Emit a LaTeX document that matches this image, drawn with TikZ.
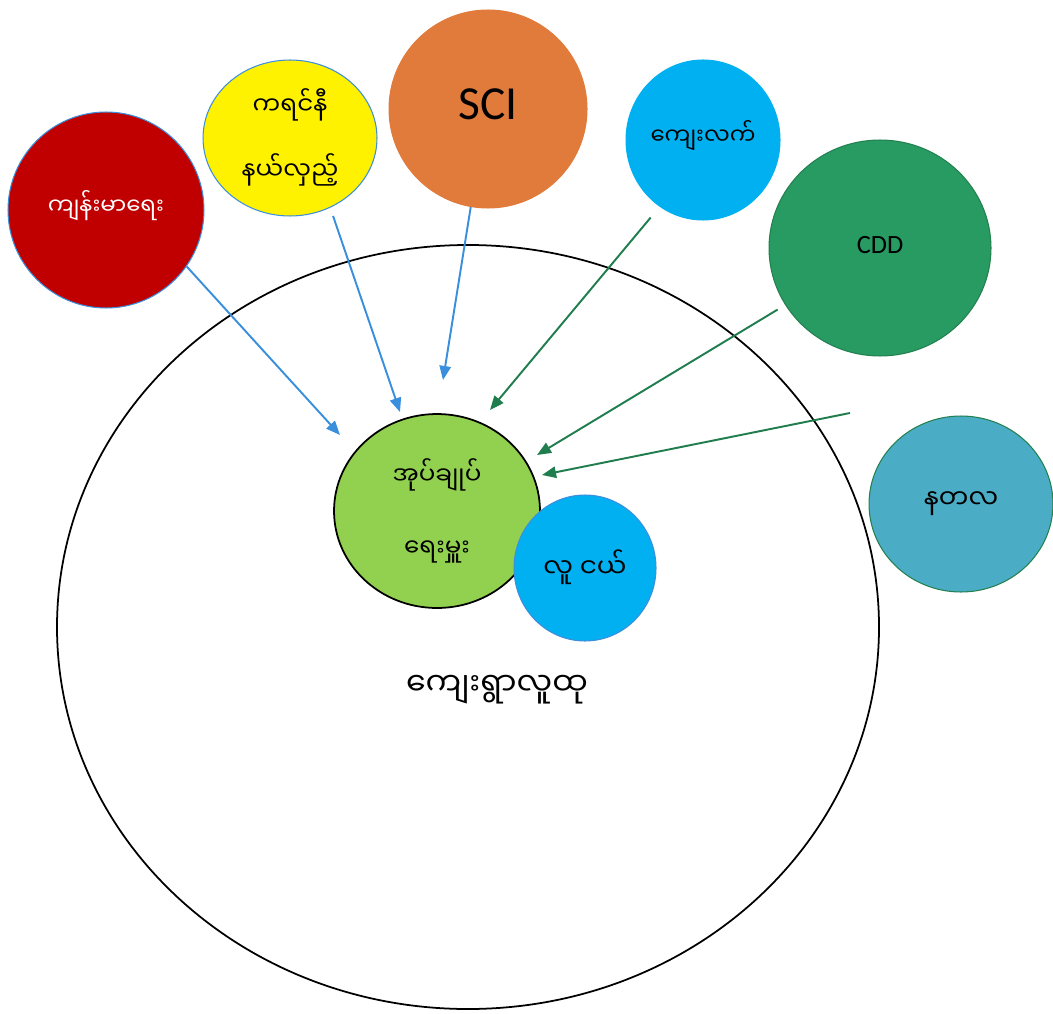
\documentclass[tikz,border=0pt]{standalone}
\usepackage{fontspec}
\setmainfont{Carlito}
\newfontfamily\mmfont[Script=Myanmar]{Noto Sans Myanmar UI}
\usetikzlibrary{arrows.meta,shapes.geometric}
\definecolor{healthred}{HTML}{C00000}
\definecolor{sciorange}{HTML}{E07B3C}
\definecolor{skyblue}{HTML}{00B0F0}
\definecolor{cddgreen}{HTML}{289B63}
\definecolor{cddedge}{HTML}{23804F}
\definecolor{nataladblue}{HTML}{4BACC6}
\definecolor{leafgreen}{HTML}{92D050}
\definecolor{edgeblue}{HTML}{3D8FDC}
\definecolor{arrowblue}{HTML}{3A8FDD}
\definecolor{arrowgreen}{HTML}{1F7D4E}
\tikzset{
  bubble/.style={ellipse, draw, line width=0.6pt, inner sep=0pt, align=center},
  mmtext/.style={font=\mmfont\fontsize{#1}{37}\selectfont},
  mmtext/.default=14,
  bluearrow/.style={-{Triangle[length=8pt,width=6.5pt]}, arrowblue, line width=1.1pt},
  greenarrow/.style={-{Triangle[length=8pt,width=6.5pt]}, arrowgreen, line width=1.1pt}
}
\begin{document}
\begin{tikzpicture}[x=0.02cm, y=-0.02cm]
  \useasboundingbox (0,0) rectangle (1053,1013);

  % Village community
  \draw[black, line width=1pt] (468,627) ellipse (411 and 382);
  \node[mmtext=18] (village) at (497,690) {ကျေးရွာလူထု};

  % Outside groups
  \node[bubble, draw=edgeblue, fill=healthred, text=white, mmtext=13,
        minimum width=3.92cm, minimum height=3.92cm] (health) at (106,210) {\raisebox{9pt}{ကျန်းမာရေး}};
  \node[bubble, draw=edgeblue, fill=yellow, mmtext=14,
        minimum width=3.48cm, minimum height=3.12cm] (karenni) at (290,138) {\raisebox{5pt}{ကရင်နီ}\\\raisebox{5pt}{နယ်လှည့်}};
  \node[bubble, draw=sciorange, fill=sciorange, font=\fontsize{27}{30}\selectfont,
        minimum width=3.96cm, minimum height=3.96cm] (sci) at (488,109) {\raisebox{5pt}{SCI}};
  \node[bubble, draw=skyblue, fill=skyblue, mmtext=13,
        minimum width=3.08cm, minimum height=3.2cm] (rural) at (703,140) {\raisebox{8pt}{ကျေးလက်}};
  \node[bubble, draw=cddedge, fill=cddgreen, font=\fontsize{15}{18}\selectfont,
        minimum width=4.44cm, minimum height=4.32cm] (cdd) at (880,248) {\raisebox{4pt}{CDD}};
  \node[bubble, draw=cddedge, fill=nataladblue, mmtext=15,
        minimum width=3.68cm, minimum height=3.52cm] (natala) at (961,504) {\raisebox{5pt}{နတလ}};

  % Village administrator and youth
  \node[bubble, draw=black, line width=1pt, fill=leafgreen, mmtext=14,
        minimum width=4.12cm, minimum height=3.88cm] (admin) at (437,511) {အုပ်ချုပ်\\[4pt]ရေးမှူး};
  \node[bubble, draw=edgeblue, fill=skyblue, mmtext=15,
        minimum width=2.84cm, minimum height=2.92cm] (youth) at (585,568) {\raisebox{5pt}{လူ ငယ်}};

  % Arrow ends
  \coordinate (healthtip) at (340,435);
  \coordinate (karennitip) at (400,412);
  \coordinate (scitip) at (443,380);
  \coordinate (ruraltip) at (490,410);
  \coordinate (cddtip) at (537,455);
  \coordinate (natalatail) at (850,413);
  \coordinate (natalatip) at (542,475);

  % Links into the village
  \draw[bluearrow] (health.-35) -- (healthtip);
  \draw[bluearrow, shorten <=5pt] (karenni.-60) -- (karennitip);
  \draw[bluearrow] (sci.-100) -- (scitip);
  \draw[greenarrow, shorten <=8pt] (rural.-123) -- (ruraltip);
  \draw[greenarrow, shorten <=5pt] (cdd.-149) -- (cddtip);
  \draw[greenarrow] (natalatail) -- (natalatip);
\end{tikzpicture}
\end{document}
